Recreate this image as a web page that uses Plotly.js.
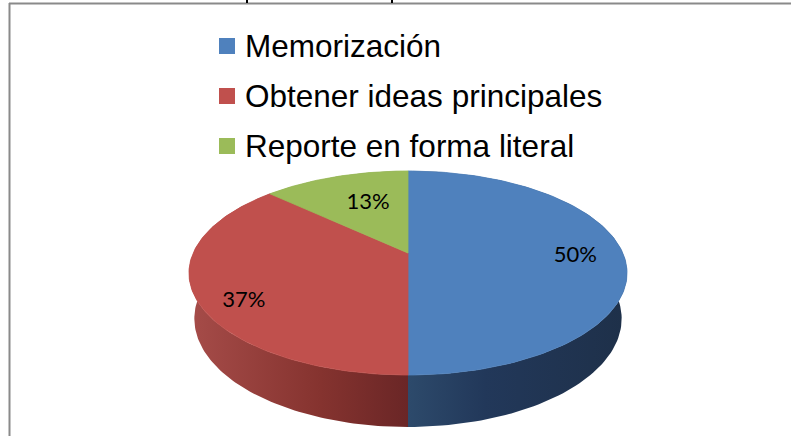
<!DOCTYPE html>
<html>
<head>
<meta charset="utf-8">
<script src="https://cdn.plot.ly/plotly-3.0.1.min.js"></script>
<style>html,body{margin:0;padding:0;background:#fff;}#chart{width:791px;height:436px;}</style>
</head>
<body>
<div id="chart"></div>
<script>
// ---- data ----
const categories = ['Memorización', 'Obtener ideas principales', 'Reporte en forma literal'];
const values = [50, 37, 13];
const pctLabels = ['50%', '37%', '13%'];

// ---- style ----
const topColors = ['#4F81BD', '#C0504D', '#9BBB59'];
const sideScales = [
  [[0, '#2D4A6B'], [0.35, '#22385A'], [1, '#1E3049']],
  [[0, '#A64C49'], [0.6, '#85332F'], [1, '#6A2626']],
  [[0, '#7A9446'], [1, '#5E7334']]
];
const W = 791, H = 436;
// pie geometry (pixels)
const cx = 408, cy = 253, R = 214.8, depth = 51.7, D = 975;
const sinA = 0.4567, cosA = Math.sqrt(1 - sinA * sinA);
const labelR = 0.76;
const labelNudge = [[4, 3], [-5, 17], [17, 11]];

function project(theta, r, Y) {
  const X = r * Math.sin(theta), Z = r * Math.cos(theta);
  const v = Y * cosA + Z * sinA;
  const w = Z * cosA - Y * sinA;
  const s = D / (D + w);
  return [cx + X * s, cy - v * s];
}

const total = values.reduce((a, b) => a + b, 0);
const sideTraces = [], topTraces = [];
let acc = 0;
const labX = [], labY = [];
values.forEach((val, i) => {
  const t0 = acc / total * 2 * Math.PI;
  acc += val;
  const t1 = acc / total * 2 * Math.PI;
  const n = 120;
  const topArc = [], botArc = [];
  for (let k = 0; k <= n; k++) {
    const t = t0 + (t1 - t0) * k / n;
    topArc.push(project(t, R, 0));
    botArc.push(project(t, R, -depth));
  }
  // side band
  const sx = topArc.map(p => p[0]).concat(botArc.slice().reverse().map(p => p[0]));
  const sy = topArc.map(p => p[1]).concat(botArc.slice().reverse().map(p => p[1]));
  sx.push(sx[0]); sy.push(sy[0]);
  sideTraces.push({
    type: 'scatter', mode: 'lines', x: sx, y: sy, fill: 'toself',
    fillcolor: sideScales[i][1][1],
    fillgradient: {type: 'horizontal', colorscale: sideScales[i]},
    line: {width: 0}, hoverinfo: 'skip', showlegend: false
  });
  // top face
  const c = project(0, 0, 0);
  const tx = [c[0]].concat(topArc.map(p => p[0]), [c[0]]);
  const ty = [c[1]].concat(topArc.map(p => p[1]), [c[1]]);
  topTraces.push({
    type: 'scatter', mode: 'lines', x: tx, y: ty, fill: 'toself',
    fillcolor: topColors[i], line: {width: 0.8, color: topColors[i]},
    hoverinfo: 'skip', showlegend: false, name: categories[i]
  });
  const tm = (t0 + t1) / 2;
  const lp = project(tm, R * labelR, 0);
  labX.push(lp[0] + labelNudge[i][0]);
  labY.push(lp[1] + labelNudge[i][1]);
});

const labelTrace = {
  type: 'scatter', mode: 'text', x: labX, y: labY, text: pctLabels,
  textposition: 'middle center',
  textfont: {family: 'Lato, "Open Sans", sans-serif', size: 22, color: '#000'},
  hoverinfo: 'skip', showlegend: false
};

// legend (manual)
const legX0 = 227, legY0 = 46, legStep = 50;
const legendSquares = {
  type: 'scatter', mode: 'markers',
  x: categories.map(() => legX0),
  y: categories.map((_, i) => legY0 + i * legStep),
  marker: {symbol: 'square', size: 16, color: topColors, line: {width: 0}},
  hoverinfo: 'skip', showlegend: false
};
const legendAnn = categories.map((c, i) => ({
  x: legX0 + 16, y: legY0 + i * legStep, xref: 'x', yref: 'y',
  text: c, showarrow: false, xanchor: 'left', yanchor: 'middle',
  font: {family: '"Liberation Sans", Arial, sans-serif', size: 31.5, color: '#000'}
}));

const layout = {
  width: W, height: H,
  margin: {l: 0, r: 0, t: 0, b: 0},
  paper_bgcolor: '#fff', plot_bgcolor: '#fff',
  showlegend: false,
  xaxis: {range: [0, W], visible: false, fixedrange: true},
  yaxis: {range: [H, 0], visible: false, fixedrange: true},
  annotations: legendAnn,
  shapes: [
    {type: 'line', xref: 'x', yref: 'y', x0: 9.5, x1: 9.5, y0: 3, y1: H, line: {color: '#8a8a8a', width: 2}},
    {type: 'line', xref: 'x', yref: 'y', x0: 9, x1: W, y0: 3.5, y1: 3.5, line: {color: '#8a8a8a', width: 2}},
    {type: 'line', xref: 'x', yref: 'y', x0: 247, x1: 247, y0: 0, y1: 3, line: {color: '#000', width: 2}},
    {type: 'line', xref: 'x', yref: 'y', x0: 392, x1: 392, y0: 0, y1: 3, line: {color: '#000', width: 2}}
  ]
};

Plotly.newPlot('chart', sideTraces.concat(topTraces, [labelTrace, legendSquares]), layout,
  {staticPlot: true, displayModeBar: false});
</script>
</body>
</html>
